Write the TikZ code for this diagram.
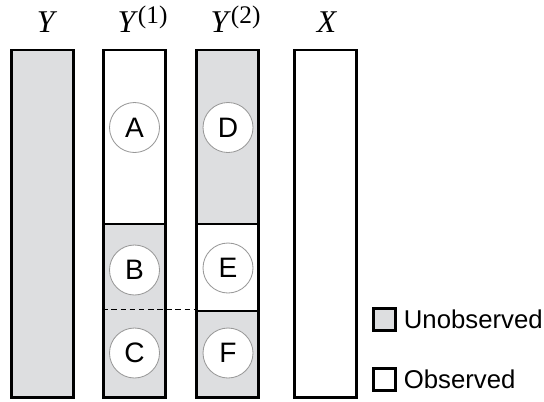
\documentclass[tikz,border=0pt]{standalone}
\usepackage{fontspec}
\setsansfont{Liberation Sans}
\newfontfamily\headfont{Liberation Serif}
\usetikzlibrary{positioning}

\definecolor{unobs}{RGB}{221,222,224}

\newcommand{\supidx}[1]{\raisebox{6pt}{\fontsize{18}{20}\selectfont(#1)}}

\begin{document}
\begin{tikzpicture}[x=0.025cm, y=-0.025cm,
  part/.style={draw, line width=1.8pt, inner sep=0pt, minimum width=62*0.025cm},
  hidden/.style={part, fill=unobs},
  shown/.style={part, fill=white},
  cell/.style={circle, draw=gray!80, fill=white, line width=0.6pt, minimum size=50*0.025cm, inner sep=0pt, font=\sffamily\fontsize{20}{20}\selectfont},
  head/.style={anchor=base, inner sep=0pt, font=\headfont\fontsize{22.5}{26}\selectfont},
  keybox/.style={draw, line width=1.6pt, minimum size=22*0.025cm, inner sep=0pt},
  keytext/.style={inner sep=0pt, font=\sffamily\fontsize{18.3}{20}\selectfont},
  ]

\useasboundingbox (0,0) rectangle (544,401);

% columns
\node (ycol) [hidden, minimum height=347.5*0.025cm] at (42.5, 223.75) {};

\node (y1top) [shown, minimum height=174*0.025cm] at (134.5, 137) {};
\node (y1low) [hidden, minimum height=173.5*0.025cm] at (134.5, 310.75) {};

\node (y2top) [hidden, minimum height=174*0.025cm] at (227.5, 137) {};
\node (y2mid) [shown, minimum height=87*0.025cm] at (227.5, 267.5) {};
\node (y2low) [hidden, minimum height=86.5*0.025cm] at (227.5, 354.25) {};

\node (xcol) [shown, minimum height=347.5*0.025cm] at (325.5, 223.75) {};

\draw [dash pattern=on 4pt off 2.5pt, line width=0.9pt] (y1low.west |- y2low.north) -- (y2low.north west);

% cells
\foreach \n/\x/\y in {A/134.5/127.5, B/134.5/270, C/134.5/353, D/228/127.5, E/228/268, F/228/353}
{
  \node (\n) [cell] at (\x, \y) {\n};
}

% headers
\node (hY) [head] at (47, 32) {\textit{Y}};
\node (hY1) [head] at (142.5, 32) {\textit{Y}\supidx{1}};
\node (hY2) [head] at (235.5, 32) {\textit{Y}\supidx{2}};
\node (hX) [head] at (327, 32) {\textit{X}};

% legend
\node (kU) [keybox, fill=unobs] at (384.5, 319.5) {};
\node (kO) [keybox, fill=white] at (384.5, 379.5) {};
\node (tU) [keytext, right=0.175cm of kU] {Unobserved};
\node (tO) [keytext, right=0.175cm of kO] {Observed};

\end{tikzpicture}
\end{document}
